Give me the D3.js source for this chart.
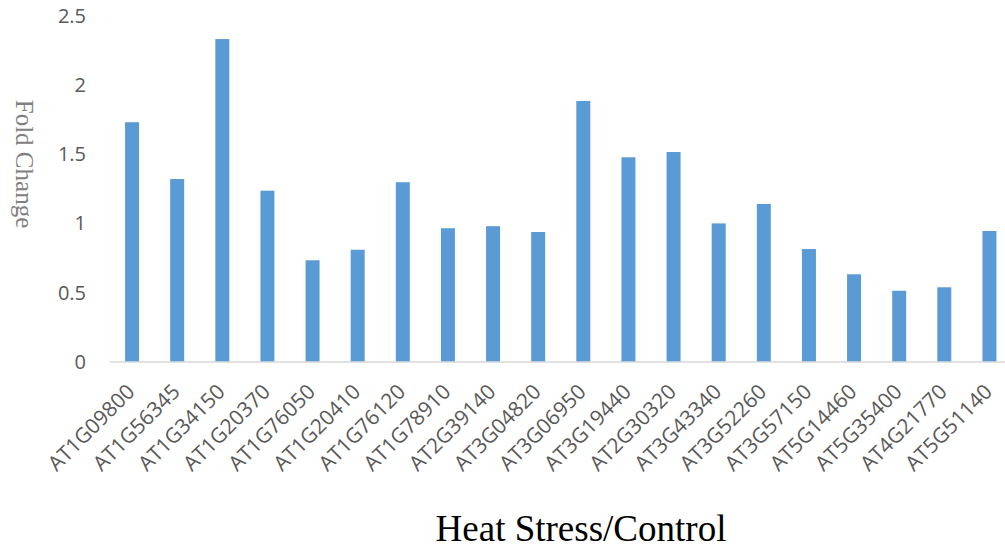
<!DOCTYPE html>
<html>
<head>
<meta charset="utf-8">
<title>Fold Change</title>
<style>
  body { margin: 0; background: #fff; }
</style>
</head>
<body>
<svg width="1005" height="548"></svg>
<script src="https://d3js.org/d3.v7.min.js"></script>
<script>
// gene ids along the x axis
var genes = ['AT1G09800', 'AT1G56345', 'AT1G34150', 'AT1G20370', 'AT1G76050',
  'AT1G20410', 'AT1G76120', 'AT1G78910', 'AT2G39140', 'AT3G04820',
  'AT3G06950', 'AT3G19440', 'AT2G30320', 'AT3G43340', 'AT3G52260',
  'AT3G57150', 'AT5G14460', 'AT5G35400', 'AT4G21770', 'AT5G51140'];

// fold change heat stress / control
var foldChange = [1.73, 1.32, 2.33, 1.236, 0.734, 0.81, 1.297, 0.965, 0.98, 0.938,
  1.883, 1.477, 1.515, 1.0, 1.14, 0.815, 0.633, 0.514, 0.539, 0.945];

var yTicks = [0, 0.5, 1, 1.5, 2, 2.5];

var svg = d3.select('svg');

var x = d3.scaleBand()
  .domain(genes)
  .range([109.5, 1012])
  .paddingInner(0.69)
  .paddingOuter(0.345);

var y = d3.scaleLinear()
  .domain([0, 2.5])
  .range([362, 15.5]);

// bars
svg.selectAll('.bar')
  .data(genes)
  .enter()
  .append('rect')
  .attr('class', 'bar')
  .attr('x', function(d) { return x(d); })
  .attr('width', x.bandwidth())
  .attr('y', function(d, i) { return y(foldChange[i]); })
  .attr('height', function(d, i) { return y(0) - y(foldChange[i]); })
  .attr('fill', '#5b9bd5');

// baseline
svg.append('line')
  .attr('x1', 110)
  .attr('x2', 1005)
  .attr('y1', y(0))
  .attr('y2', y(0))
  .style('stroke', '#d9d9d9')
  .style('stroke-width', 1.5);

// y tick labels (no axis line in the original)
svg.selectAll('.ytick')
  .data(yTicks)
  .enter()
  .append('text')
  .attr('class', 'ytick')
  .text(function(d) { return d; })
  .attr('x', 86)
  .attr('y', function(d) { return y(d); })
  .attr('dy', '0.35em')
  .attr('text-anchor', 'end')
  .attr('font-family', 'Open Sans, sans-serif')
  .attr('font-size', '20px')
  .attr('fill', '#595959');

// x category labels, slanted
svg.selectAll('.xlab')
  .data(genes)
  .enter()
  .append('text')
  .attr('class', 'xlab')
  .text(function(d) { return d; })
  .attr('text-anchor', 'end')
  .attr('font-family', 'Open Sans, sans-serif')
  .attr('font-size', '21px')
  .attr('fill', '#595959')
  .attr('transform', function(d) {
    return 'translate(' + (x(d) + x.bandwidth() / 2 + 4) + ',' + (y(0) + 31) + ') rotate(-45)';
  });

// axis titles
svg.append('text')
  .text('Fold Change')
  .attr('font-family', 'Liberation Serif, Times New Roman, serif')
  .attr('font-size', '25px')
  .attr('fill', '#808080')
  .attr('text-anchor', 'middle')
  .attr('transform', 'translate(16,164) rotate(90)');

svg.append('text')
  .text('Heat Stress/Control')
  .attr('font-family', 'Liberation Serif, Times New Roman, serif')
  .attr('font-size', '37px')
  .attr('fill', '#000')
  .attr('text-anchor', 'middle')
  .attr('x', 581)
  .attr('y', 541);
</script>
</body>
</html>
